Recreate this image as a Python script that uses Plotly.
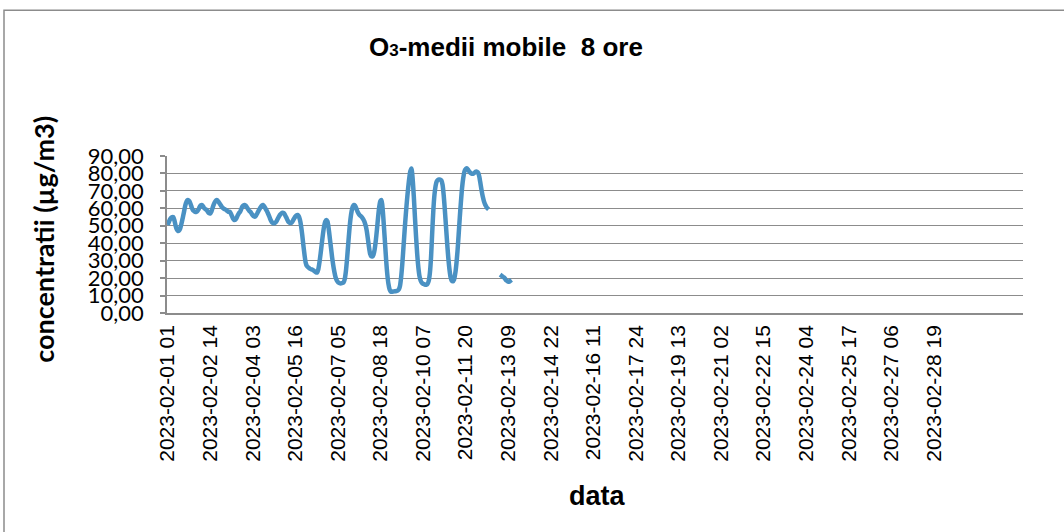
import plotly.graph_objects as go

# ---- data -------------------------------------------------------------
title_text = "<b>O<span style='font-size:17px'>3</span>-medii mobile  8 ore</b>"
y_title = "concentratii (µg/m3)"
x_title = "data"

# hourly categories for February 2023 (hours numbered 01..24)
n_days = 28
hour_labels = [f"2023-02-{d:02d} {h:02d}" for d in range(1, n_days + 1) for h in range(1, 25)]
n_slots = 744          # the axis is laid out for 31 days x 24 h
label_step = 37

# 8-hour moving averages of O3 (µg/m3)
o3_values = [
    50.5, 52, 53.5, 54.5, 55, 55, 53, 50, 48, 47,
    47.2, 48.5, 51, 54, 57, 60.5, 63, 64.5, 64.7, 64,
    62.5, 60.5, 59, 58.5, 58, 58, 58.5, 59.5, 61, 61.8,
    61.9, 61, 60, 59.5, 59, 58, 57.2, 57, 58, 60,
    62, 63.5, 64.5, 64.7, 64, 63, 62, 61, 60.2, 59.7,
    59.4, 59, 58.5, 58, 58, 57, 55.5, 54, 53.3, 53.5,
    54.5, 56, 57.2, 58, 59.5, 61, 61.7, 61.9, 61.5, 60.5,
    59.5, 58.5, 58, 57, 56, 55.4, 55.2, 56, 57.2, 58.5,
    59.7, 60.8, 61.6, 61.9, 61.2, 60, 58.8, 57.5, 56, 54.3,
    52.8, 51.8, 51.4, 51.5, 52, 53, 54.3, 55.5, 56.5, 57.2,
    57.5, 57.3, 56.3, 55, 53.6, 52.3, 51.8, 51.6, 52, 53,
    54.2, 55.3, 56, 56.2, 55.5, 53.5, 50, 45, 39, 33.5,
    29, 27, 26.3, 25.8, 25.3, 25, 24.8, 24.4, 23.8, 23.3,
    23.2, 25, 29, 34, 39.5, 45, 49.5, 52.3, 53.3, 52.5,
    48.5, 43, 37.5, 32, 27.3, 23.5, 20.5, 18.8, 17.8, 17.3,
    17, 17, 17.2, 17.6, 19.5, 24, 31, 39.5, 47.5, 54,
    58.5, 61, 61.9, 61.5, 60, 58.3, 57, 56, 55.5, 54.8,
    53.8, 52.5, 50.5, 47.5, 43, 38, 34, 32.5, 32.4, 33.5,
    36.5, 41.5, 48, 55, 61, 64.2, 64.7, 59, 50, 40,
    30, 22, 16.5, 13.5, 12.3, 12.2, 12.3, 12.4, 12.5, 12.6,
    12.8, 13.5, 15.5, 20.5, 28, 37.5, 47, 56, 64, 71,
    77, 81.3, 82.8, 77, 67, 55, 43.5, 33.5, 26, 21,
    18.5, 17.3, 16.8, 16.5, 16.2, 16.2, 16.8, 18.5, 23, 32,
    46, 59, 68, 73, 75.5, 76.3, 76.5, 76.5, 76, 73.5,
    67.5, 59, 49.5, 40, 31.5, 25, 20.5, 18.5, 18.2, 19.2,
    22.5, 28, 35.5, 45, 55, 64, 72, 77.5, 81, 82.5,
    83, 82.3, 81.3, 80.5, 80, 79.8, 80, 80.5, 81, 81,
    80.3, 78, 74, 70, 66.6, 64, 62.2, 61, 60, 59.4,
    None, None, None, None, None, None, None, None, None,
    22, 21.5, 21, 20.5, 20, 19, 18.5, 18, 18, 18.5, 19,
]

y_ticks = [0, 10, 20, 30, 40, 50, 60, 70, 80, 90]
y_tick_text = ["0,00", "10,00", "20,00", "30,00", "40,00", "50,00",
               "60,00", "70,00", "80,00", "90,00"]

# ---- figure -----------------------------------------------------------
tick_vals = hour_labels[::label_step]

fig = go.Figure()
fig.add_trace(go.Scatter(
    x=hour_labels[:len(o3_values)],
    y=o3_values,
    mode="lines",
    line=dict(color="#4A91C3", width=4.5, shape="spline", smoothing=0.6),
    connectgaps=False,
    hoverinfo="x+y",
    showlegend=False,
))

W, H = 1064, 532
L = 167
R = W - 1023
T = 156
B = H - 313.3
pw, ph = W - L - R, H - T - B

def px_x(px):
    return (px - L) / pw

def px_y(py):
    return (H - B - py) / ph

fig.update_layout(
    width=W, height=H,
    margin=dict(l=L, r=R, t=T, b=B, autoexpand=False),
    paper_bgcolor="white",
    plot_bgcolor="white",
    showlegend=False,
    font=dict(family="Liberation Sans, Arial, sans-serif", color="black"),
    xaxis=dict(
        type="category",
        categoryorder="array",
        categoryarray=hour_labels,
        range=[-0.5, n_slots - 0.5],
        tickmode="array",
        tickvals=tick_vals,
        ticktext=tick_vals,
        tickangle=-90,
        tickfont=dict(family="Liberation Sans, Arial", size=21, color="black"),
        ticks="",
        ticklabelstandoff=2,
        showgrid=False,
        showline=True,
        linecolor="#8c8c8c",
        linewidth=1.5,
        zeroline=False,
        fixedrange=True,
    ),
    yaxis=dict(
        range=[0, 90],
        tickmode="array",
        tickvals=y_ticks,
        ticktext=y_tick_text,
        tickfont=dict(family="Lato, Carlito, sans-serif", size=22, color="black"),
        ticks="outside",
        ticklen=5,
        tickcolor="#8c8c8c",
        tickwidth=1.5,
        ticklabelstandoff=12,
        showgrid=True,
        gridcolor="#8c8c8c",
        gridwidth=1.3,
        showline=True,
        linecolor="#8c8c8c",
        linewidth=1.5,
        zeroline=False,
        fixedrange=True,
    ),
    annotations=[
        dict(text=title_text, xref="paper", yref="paper",
             x=px_x(506), y=px_y(47), xanchor="center", yanchor="middle",
             showarrow=False,
             font=dict(family="Liberation Sans, Arial", size=26, color="black")),
        dict(text=f"<b>{y_title}</b>", xref="paper", yref="paper",
             x=px_x(44), y=px_y(240), xanchor="center", yanchor="middle",
             textangle=-90, showarrow=False,
             font=dict(family="Lato, Carlito, sans-serif", size=27, color="black")),
        dict(text=f"<b>{x_title}</b>", xref="paper", yref="paper",
             x=px_x(597), y=px_y(497), xanchor="center", yanchor="middle",
             showarrow=False,
             font=dict(family="Liberation Sans, Arial", size=27, color="black")),
    ],
    shapes=[
        dict(type="rect", xref="paper", yref="paper",
             x0=px_x(4), x1=px_x(1090), y0=px_y(570), y1=px_y(10),
             line=dict(color="#8c8c8c", width=1.5), fillcolor="rgba(0,0,0,0)",
             layer="below"),
    ],
)

fig.write_html(
    "out.html",
    config={"displayModeBar": False},
    post_script="document.body.style.margin='0';document.body.style.overflow='hidden';",
)
